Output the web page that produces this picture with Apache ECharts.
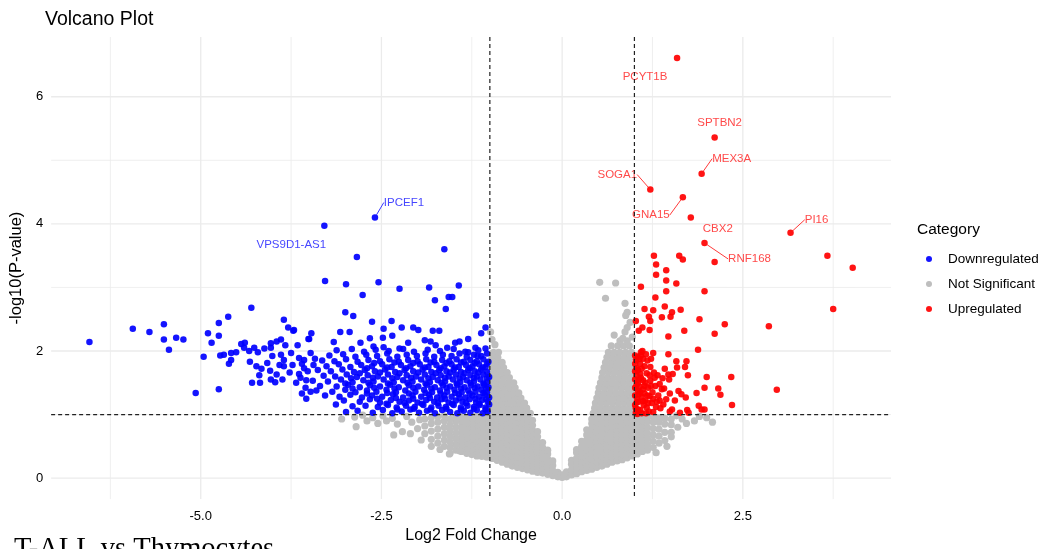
<!DOCTYPE html>
<html><head><meta charset="utf-8">
<script src="https://cdn.jsdelivr.net/npm/echarts@6/dist/echarts.min.js"></script>
<style>html,body{margin:0;padding:0;background:#fff}#c{width:1057px;height:549px}</style>
</head><body><div id="c"></div><script>
// ---------------- DATA ----------------
const categories = ['Downregulated', 'Not Significant', 'Upregulated'];
const xTicks = [-5, -2.5, 0, 2.5];
const yTicks = [0, 2, 4, 6];
const xMajor = [-5, -2.5, 0, 2.5];
const xMinor = [-6.25, -3.75, -1.25, 1.25, 3.75];
const yMajor = [0, 2, 4, 6];
const yMinor = [1, 3, 5];
const fcCutoffs = [-1, 1];
const pCutoffs = [1];

// labelled genes [name, log2FC, -log10 p]
const downLabeled = [['IPCEF1', -2.59, 4.10], ['VPS9D1-AS1', -3.29, 3.97]];
const upLabeled = [
  ['PCYT1B', 1.59, 6.61], ['SPTBN2', 2.11, 5.36], ['MEX3A', 1.93, 4.79], ['SOGA1', 1.22, 4.54],
  ['GNA15', 1.67, 4.42], ['CBX2', 1.78, 4.10], ['RNF168', 1.97, 3.70], ['PI16', 3.16, 3.86]
];

// upregulated (red) points
const upPoints = [
  [2.11,3.40],[1.27,3.50],[1.62,3.50],[1.67,3.44],[1.30,3.36],[1.44,3.27],[1.30,3.20],[1.44,3.11],[1.58,3.06],[1.09,3.01],
  [1.44,2.94],[1.97,2.94],[1.29,2.84],[1.14,2.66],[1.26,2.64],[1.42,2.70],[1.64,2.65],[1.52,2.61],[1.50,2.54],[1.38,2.53],
  [1.20,2.54],[1.22,2.47],[1.90,2.50],[1.02,2.47],[2.25,2.42],[2.86,2.39],[3.75,2.66],[3.67,3.50],[4.02,3.31],[1.11,2.37],
  [1.06,2.32],[1.21,2.33],[1.69,2.32],[1.47,2.23],[2.11,2.27],[1.88,2.02],[1.09,1.98],[1.26,1.97],[1.47,1.95],[1.23,1.88],
  [1.07,1.88],[1.58,1.84],[1.72,1.84],[1.14,1.76],[1.42,1.72],[1.59,1.74],[1.70,1.75],[1.03,1.73],[1.08,1.64],[1.27,1.66],
  [1.47,1.63],[1.53,1.64],[1.74,1.62],[2.00,1.59],[2.34,1.59],[1.39,1.57],[1.48,1.55],[1.12,1.54],[1.22,1.53],[1.35,1.48],
  [1.03,1.47],[1.14,1.45],[1.97,1.42],[2.16,1.41],[2.97,1.39],[1.41,1.41],[1.61,1.37],[1.86,1.34],[1.49,1.33],[1.65,1.32],
  [2.19,1.31],[1.06,1.32],[1.21,1.29],[1.71,1.27],[1.44,1.24],[1.56,1.22],[1.31,1.20],[1.12,1.21],[1.03,1.19],[2.35,1.15],
  [1.89,1.14],[1.17,1.11],[1.52,1.08],[1.93,1.08],[1.97,1.08],[1.73,1.07],[1.08,1.07],[1.49,1.05],[1.26,1.04],[1.63,1.03],
  [1.75,1.03],[1.02,1.03],[1.02,1.10],[1.04,1.25],[1.05,1.38],[1.06,1.55],[1.03,1.62],[1.08,1.80],[1.10,1.28],[1.12,1.40],
  [1.15,1.50],[1.17,1.65],[1.09,1.93],[1.02,1.85],[1.18,1.30],[1.13,1.15],[1.20,1.05],[1.25,1.35],[1.30,1.12],[1.16,1.95],
  [1.22,1.75],[1.28,1.58],[1.33,1.30],[1.04,1.01],[1.10,1.02],[1.15,1.22],[1.24,1.18],[1.36,1.10],[1.40,1.16],[1.07,1.44],[1.19,1.42],
  [1.01,1.15],[1.01,1.30],[1.01,1.42],[1.01,1.55],[1.01,1.68],[1.01,1.80],[1.01,1.93],[1.05,1.08],[1.06,1.20],[1.05,1.50],
  [1.05,1.70],[1.04,1.90],[1.08,1.35],[1.09,1.58],[1.10,1.72],[1.12,1.88],[1.14,1.33],[1.16,1.02],[1.19,1.18],[1.21,1.62],
  [1.23,1.45],[1.26,1.25],[1.29,1.45],[1.32,1.62],[1.35,1.22],[1.38,1.40],[1.18,1.85],[1.11,2.00]
];

// downregulated (blue) points
const downPoints = [
  [-6.54,2.14],[-5.94,2.35],[-5.71,2.30],[-5.51,2.42],[-5.51,2.18],[-5.34,2.21],[-5.24,2.18],[-5.44,2.02],[-5.07,1.34],[-4.75,1.40],
  [-4.96,1.91],[-4.90,2.28],[-4.85,2.13],[-4.75,2.44],[-4.75,2.24],[-4.62,2.54],[-4.30,2.68],[-4.73,1.93],[-4.68,1.94],[-4.58,1.97],
  [-4.51,1.98],[-4.58,1.86],[-4.61,1.80],[-4.44,2.11],[-4.39,2.13],[-4.32,1.83],[-4.40,2.05],[-4.33,2.00],[-4.26,2.05],[-4.21,1.98],
  [-4.12,2.04],[-4.03,2.12],[-3.95,2.15],[-3.89,2.18],[-3.85,2.49],[-3.79,2.37],[-3.72,2.32],[-3.83,2.09],[-3.66,2.09],[-4.03,2.05],
  [-4.01,1.92],[-3.89,1.94],[-3.85,1.86],[-3.75,1.97],[-3.64,1.89],[-3.57,1.86],[-3.48,1.97],[-4.23,1.76],[-4.16,1.72],[-4.08,1.81],
  [-4.04,1.69],[-3.95,1.63],[-3.91,1.78],[-3.85,1.76],[-3.73,1.78],[-3.77,1.66],[-4.19,1.62],[-4.29,1.50],[-4.18,1.50],[-4.03,1.55],
  [-3.97,1.51],[-3.87,1.55],[-3.64,1.64],[-3.54,1.54],[-3.60,1.33],[-3.54,1.25],[-3.48,1.36],[-3.50,2.19],[-3.57,1.73],
  [-1.63,3.60],[-2.84,3.48],[-3.28,3.10],[-2.99,3.05],[-2.54,3.08],[-2.25,2.98],[-1.84,3.00],[-1.43,3.03],[-2.76,2.88],[-1.76,2.80],
  [-1.57,2.85],[-1.52,2.85],[-1.61,2.66],[-3.00,2.61],[-2.89,2.55],[-2.63,2.46],[-2.36,2.47],[-1.19,2.56],[-1.06,2.37],[-2.47,2.35],
  [-2.22,2.37],[-2.06,2.37],[-1.99,2.33],[-1.79,2.32],[-1.70,2.32],[-3.07,2.30],[-2.94,2.30],[-3.47,2.28],[-2.66,2.20],[-2.35,2.24],
  [-2.48,2.21],[-2.13,2.13],[-1.90,2.17],[-1.82,2.15],[-1.75,2.09],[-1.59,2.05],[-1.48,2.13],[-1.42,2.15],[-1.30,2.19],[-1.12,2.28],
  [-3.51,2.19],[-3.16,2.14],[-2.79,2.13],[-2.61,2.07],[-2.25,2.04],[-2.47,2.06],[-1.30,1.98],[-1.20,2.05],[-1.17,1.92],[-3.71,2.33],
  [-2.99,1.04],[-2.83,1.06],[-2.62,1.03],[-2.48,1.07],[-2.35,1.02],[-2.22,1.05],[-2.10,1.08],[-1.98,1.03],[-1.87,1.06],[-1.76,1.02],
  [-1.66,1.07],[-1.55,1.04],[-1.45,1.02],[-1.36,1.06],[-1.27,1.03],[-1.18,1.07],[-1.10,1.02],[-1.03,1.05],
  [-3.13,1.16],[-2.90,1.13],[-2.72,1.14],[-2.55,1.12],[-2.41,1.15],[-2.29,1.11],[-2.16,1.14],[-2.04,1.12],[-1.92,1.15],[-1.81,1.11],
  [-1.71,1.14],[-1.61,1.12],[-1.50,1.15],[-1.40,1.11],[-1.31,1.14],[-1.22,1.12],[-1.14,1.15],[-1.06,1.11],[-1.01,1.16],
  [-3.02,1.22],[-2.80,1.20],[-2.66,1.24],[-2.52,1.19],[-2.37,1.23],[-2.25,1.20],[-2.12,1.22],[-2.00,1.19],[-1.88,1.23],[-1.77,1.20],
  [-1.67,1.24],[-1.57,1.19],[-1.47,1.22],[-1.38,1.20],[-1.28,1.24],[-1.19,1.19],[-1.11,1.23],[-1.03,1.20],
  [-3.28,1.30],[-3.08,1.28],[-2.93,1.31],[-2.77,1.27],[-2.63,1.30],[-2.49,1.28],[-2.34,1.32],[-2.20,1.27],[-2.07,1.30],[-1.95,1.28],
  [-1.84,1.31],[-1.73,1.27],[-1.63,1.30],[-1.53,1.28],[-1.43,1.32],[-1.34,1.27],[-1.24,1.30],[-1.15,1.28],[-1.07,1.31],[-1.01,1.27],
  [-3.40,1.38],[-3.18,1.36],[-3.00,1.39],[-2.86,1.35],[-2.70,1.38],[-2.57,1.36],[-2.43,1.39],[-2.30,1.35],[-2.17,1.38],[-2.03,1.36],
  [-1.91,1.39],[-1.80,1.35],[-1.69,1.38],[-1.59,1.36],[-1.49,1.39],[-1.39,1.35],[-1.30,1.38],[-1.20,1.36],[-1.12,1.39],[-1.04,1.35],
  [-3.35,1.45],[-3.12,1.44],[-2.96,1.47],[-2.80,1.43],[-2.66,1.46],[-2.52,1.44],[-2.38,1.47],[-2.26,1.43],[-2.12,1.46],[-1.99,1.44],
  [-1.87,1.47],[-1.76,1.43],[-1.65,1.46],[-1.55,1.44],[-1.45,1.47],[-1.35,1.43],[-1.26,1.46],[-1.17,1.44],[-1.08,1.47],[-1.02,1.43],
  [-3.45,1.53],[-3.24,1.52],[-3.06,1.55],[-2.90,1.51],[-2.75,1.54],[-2.61,1.52],[-2.47,1.55],[-2.33,1.51],[-2.20,1.54],[-2.07,1.52],
  [-1.95,1.55],[-1.83,1.51],[-1.72,1.54],[-1.62,1.52],[-1.51,1.55],[-1.41,1.51],[-1.32,1.54],[-1.22,1.52],[-1.13,1.55],[-1.04,1.51],
  [-3.30,1.61],[-3.14,1.60],[-2.98,1.63],[-2.84,1.59],[-2.69,1.62],[-2.55,1.60],[-2.41,1.63],[-2.28,1.59],[-2.15,1.62],[-2.02,1.60],
  [-1.90,1.63],[-1.79,1.59],[-1.68,1.62],[-1.57,1.60],[-1.47,1.63],[-1.37,1.59],[-1.27,1.62],[-1.18,1.60],[-1.09,1.63],[-1.01,1.59],
  [-3.38,1.70],[-3.20,1.68],[-3.04,1.71],[-2.88,1.67],[-2.73,1.70],[-2.59,1.68],[-2.45,1.71],[-2.31,1.67],[-2.18,1.70],[-2.06,1.68],
  [-1.93,1.71],[-1.81,1.67],[-1.70,1.70],[-1.60,1.68],[-1.50,1.71],[-1.40,1.67],[-1.30,1.70],[-1.21,1.68],[-1.12,1.71],[-1.04,1.67],
  [-3.44,1.78],[-3.26,1.76],[-3.09,1.79],[-2.93,1.75],[-2.78,1.78],[-2.63,1.76],[-2.49,1.79],[-2.36,1.75],[-2.23,1.78],[-2.10,1.76],
  [-1.97,1.79],[-1.85,1.75],[-1.74,1.78],[-1.63,1.76],[-1.53,1.79],[-1.43,1.75],[-1.33,1.78],[-1.24,1.76],[-1.15,1.79],[-1.06,1.75],
  [-3.32,1.85],[-3.15,1.84],[-2.99,1.87],[-2.83,1.83],[-2.68,1.86],[-2.52,1.84],[-2.39,1.87],[-2.26,1.83],[-2.13,1.86],[-2.00,1.84],
  [-1.88,1.87],[-1.77,1.83],[-1.66,1.86],[-1.56,1.84],[-1.46,1.87],[-1.36,1.83],[-1.27,1.86],[-1.18,1.84],[-1.09,1.87],[-1.02,1.83],
  [-3.22,1.93],[-3.03,1.95],[-2.86,1.91],[-2.71,1.94],[-2.56,1.92],[-2.42,1.96],[-2.28,1.91],[-2.15,1.94],[-2.01,1.92],[-1.89,1.96],
  [-1.77,1.91],[-1.65,1.94],[-1.53,1.92],[-1.42,1.96],[-1.32,1.91],[-1.22,1.94],[-1.12,1.92],[-1.04,1.96],
  [-3.12,2.01],[-2.91,2.03],[-2.74,1.99],[-2.58,2.02],[-2.40,2.00],[-2.20,2.03],[-2.05,1.99],[-1.86,2.02],[-1.69,2.00],[-1.50,2.03],
  [-1.34,1.99],[-1.16,2.01],[-1.06,2.04],
  [-2.28,1.08],[-2.05,1.09],[-1.82,1.08],[-1.60,1.09],[-1.40,1.08],[-1.22,1.09],[-1.06,1.08],
  [-2.43,1.17],[-2.18,1.18],[-1.94,1.17],[-1.72,1.18],[-1.52,1.17],[-1.33,1.18],[-1.15,1.17],
  [-2.56,1.25],[-2.30,1.26],[-2.06,1.25],[-1.83,1.26],[-1.62,1.25],[-1.42,1.26],[-1.20,1.25],[-1.05,1.24],
  [-2.70,1.33],[-2.42,1.34],[-2.12,1.33],[-1.89,1.34],[-1.68,1.33],[-1.48,1.34],[-1.28,1.33],[-1.09,1.34],
  [-2.90,1.41],[-2.60,1.42],[-2.32,1.41],[-2.06,1.42],[-1.81,1.41],[-1.60,1.42],[-1.40,1.41],[-1.21,1.42],[-1.05,1.41],
  [-3.00,1.49],[-2.68,1.50],[-2.41,1.49],[-2.14,1.50],[-1.89,1.49],[-1.67,1.50],[-1.46,1.49],[-1.27,1.50],[-1.09,1.49],
  [-2.92,1.57],[-2.62,1.58],[-2.35,1.57],[-2.09,1.58],[-1.85,1.57],[-1.62,1.58],[-1.42,1.57],[-1.22,1.58],[-1.04,1.57],
  [-2.80,1.65],[-2.52,1.66],[-2.25,1.65],[-1.99,1.66],[-1.75,1.65],[-1.55,1.66],[-1.35,1.65],[-1.16,1.66],
  [-2.70,1.73],[-2.42,1.74],[-2.16,1.73],[-1.90,1.74],[-1.68,1.73],[-1.48,1.74],[-1.28,1.73],[-1.10,1.74],
  [-2.60,1.81],[-2.32,1.82],[-2.06,1.81],[-1.82,1.82],[-1.60,1.81],[-1.40,1.82],[-1.21,1.81],[-1.04,1.80],
  [-3.55,1.42],[-3.62,1.58],[-3.52,1.68],[-3.68,1.50],[-3.60,1.80],[-3.42,1.88]
];

// not significant (grey) points, columns: [log2FC, -log10 p values...]
const greyCols = [
  [-0.97,.31,.40,.48,.56,.64,.72,.80,.88,.95],
  [-0.90,.28,.36,.44,.52,.60,.68,.76,.84,.92,.99],
  [-0.83,.25,.33,.41,.49,.57,.65,.73,.81,.89,.96],
  [-0.76,.22,.30,.38,.46,.54,.62,.70,.78,.86,.94],
  [-0.69,.19,.27,.35,.43,.51,.59,.67,.75,.83,.91,.98],
  [-0.62,.17,.25,.33,.41,.49,.57,.65,.73,.81,.89,.96],
  [-0.55,.15,.23,.31,.39,.47,.55,.63,.71,.79,.87,.95],
  [-0.48,.13,.21,.29,.37,.45,.53,.61,.69,.77,.85,.93,.99],
  [-0.41,.11,.19,.27,.35,.43,.51,.59,.67,.75,.83,.91],
  [-0.34,.09,.17,.25,.33,.41,.49,.57,.65,.73],
  [-0.27,.08,.16,.24,.32,.40,.48,.56],
  [-0.20,.06,.14,.22,.30,.38,.44],
  [-0.13,.04,.12,.20,.27],
  [-0.06,.02,.09],
  [0.00,.01],
  [0.06,.02,.10],
  [0.13,.05,.13,.22,.28],
  [0.20,.07,.15,.23,.31,.40,.45],
  [0.27,.10,.18,.26,.34,.42,.50,.58],
  [0.34,.12,.20,.28,.36,.44,.52,.60,.68,.76],
  [0.41,.14,.22,.30,.38,.46,.54,.62,.70,.78,.86,.93],
  [0.48,.17,.25,.33,.41,.49,.57,.65,.73,.81,.89,.97],
  [0.55,.19,.27,.35,.43,.51,.59,.67,.75,.83,.91,.98],
  [0.62,.22,.30,.38,.46,.54,.62,.70,.78,.86,.94],
  [0.69,.25,.33,.41,.49,.57,.65,.73,.81,.89,.96],
  [0.76,.27,.35,.43,.51,.59,.67,.75,.83,.91,.98],
  [0.83,.29,.37,.45,.53,.61,.69,.77,.85,.93],
  [0.90,.32,.40,.48,.56,.64,.72,.80,.88,.96],
  [0.97,.35,.43,.51,.59,.67,.75,.83,.91,.98],
  [-1.04,.33,.41,.49,.57,.65,.73,.81,.89,.96],
  [-1.11,.34,.42,.50,.58,.66,.74,.82,.90,.97],
  [-1.18,.35,.43,.51,.59,.67,.75,.83,.91,.98],
  [-1.25,.37,.45,.53,.61,.69,.77,.85,.93],
  [-1.32,.39,.47,.55,.63,.71,.79,.87,.95],
  [-1.39,.42,.50,.58,.66,.74,.82,.90,.97],
  [-1.47,.44,.53,.62,.71,.80,.89,.96],
  [-1.55,.39,.48,.57,.66,.75,.84,.93],
  [-1.63,.50,.60,.70,.80,.90,.98],
  [-1.72,.55,.66,.77,.88,.97],
  [-1.81,.61,.74,.86,.95],
  [-1.90,.70,.82,.93],
  [1.04,.38,.46,.54,.62,.70,.78,.86,.94],
  [1.11,.42,.50,.58,.66,.74,.82,.90,.97],
  [1.18,.44,.53,.62,.71,.80,.89,.97],
  [1.26,.48,.58,.68,.78,.88,.96],
  [1.34,.55,.66,.77,.88,.95],
  [1.42,.59,.72,.85,.94],
  [1.51,.72,.84,.93]
];
// grey rows: [-log10 p, log2FC values...]
const greyRows = [
  [1.02,-0.99,-0.91,-0.83,-0.75,-0.67,-0.59,-0.51,-0.44],
  [1.10,-0.97,-0.89,-0.81,-0.73,-0.65,-0.57,-0.49],
  [1.18,-0.99,-0.91,-0.83,-0.75,-0.67,-0.59,-0.52],
  [1.26,-0.97,-0.89,-0.81,-0.73,-0.65,-0.57],
  [1.34,-0.99,-0.91,-0.83,-0.75,-0.67,-0.60],
  [1.42,-0.97,-0.89,-0.81,-0.73,-0.65],
  [1.50,-0.99,-0.91,-0.83,-0.75,-0.67],
  [1.58,-0.97,-0.89,-0.81,-0.73],
  [1.66,-0.99,-0.91,-0.83,-0.76],
  [1.74,-0.97,-0.89,-0.81],
  [1.82,-0.99,-0.91,-0.83],
  [1.90,-0.97,-0.89],
  [1.98,-0.95,-0.88],
  [1.02,0.43,0.51,0.59,0.67,0.75,0.83,0.91,0.98],
  [1.10,0.45,0.53,0.61,0.69,0.77,0.85,0.93,0.99],
  [1.18,0.46,0.54,0.62,0.70,0.78,0.86,0.94],
  [1.26,0.48,0.56,0.64,0.72,0.80,0.88,0.96],
  [1.34,0.50,0.58,0.66,0.74,0.82,0.90,0.98],
  [1.42,0.51,0.59,0.67,0.75,0.83,0.91,0.99],
  [1.50,0.53,0.61,0.69,0.77,0.85,0.93],
  [1.58,0.55,0.63,0.71,0.79,0.87,0.95],
  [1.66,0.56,0.64,0.72,0.80,0.88,0.96],
  [1.74,0.58,0.66,0.74,0.82,0.90,0.98],
  [1.82,0.60,0.68,0.76,0.84,0.92],
  [1.90,0.62,0.70,0.78,0.86,0.94],
  [1.98,0.64,0.72,0.80,0.88,0.96],
  [2.08,0.68,0.77,0.85,0.93],
  [2.16,0.80,0.90]
];
const greyPoints = [
  [-2.00,0.78],[-1.97,0.92],[-2.08,0.88],[-2.15,0.97],[-2.21,0.73],[-2.28,0.85],[-2.35,0.94],[-2.43,0.90],[-2.55,0.86],[-2.62,0.95],
  [-2.70,0.90],[-2.85,0.81],[-2.87,0.96],[-2.48,0.98],[-2.10,0.70],[-1.95,0.60],[-2.33,0.68],[-3.05,0.93],[-2.76,0.99],[-1.81,0.50],
  [-1.69,0.45],[-1.56,0.38],[-1.42,0.43],
  [1.60,0.80],[1.66,0.93],[1.72,0.86],[1.83,0.90],[1.90,0.97],[2.08,0.88],[1.58,0.98],[2.00,0.95],[1.45,0.50],[1.30,0.40],[1.51,0.65],
  [0.52,3.08],[0.74,3.07],[0.87,2.75],[0.60,2.83],[0.90,2.61],[0.88,2.56],[0.90,2.37],[0.87,2.30],[0.94,2.45],[0.97,2.22],[0.72,2.25],[0.84,2.20],
  [-0.99,2.30],[-0.97,2.18],[-0.93,2.10],[-0.02,0.05],[0.02,0.05]
];

// ---------------- LAYOUT / STYLE ----------------
const LABEL_POS = { // pixel offsets of label centre from point, guide line flag
  'PCYT1B':[-32,19,0], 'SPTBN2':[5,-15,0], 'MEX3A':[30,-15,1], 'SOGA1':[-33,-15,1], 'GNA15':[-32,18,1],
  'CBX2':[27,11,0], 'RNF168':[45,16,1], 'PI16':[26,-13,1], 'IPCEF1':[29,-15,1], 'VPS9D1-AS1':[-33,19,0]
};
const COLORS = {down:'#0000ff', ns:'#bebebe', up:'#ff0000', downText:'#3636ff', upText:'#ff3a3a'};
const FONT = '"Liberation Sans", Arial, sans-serif';

const greyData = [];
greyCols.forEach(c => { for (let i = 1; i < c.length; i++) greyData.push([c[0], c[i]]); });
greyRows.forEach(r => { for (let i = 1; i < r.length; i++) greyData.push([r[i], r[0]]); });
greyPoints.forEach(p => greyData.push(p));

function labeledItems(list) {
  return list.map(g => ({
    name: g[0], value: [g[1], g[2]],
    label: {show: true, formatter: '{b}'},
    labelLine: {show: !!(LABEL_POS[g[0]] && LABEL_POS[g[0]][2])}
  }));
}
function layoutFn(p) {
  const o = LABEL_POS[p.text];
  return o ? {dx: o[0], dy: o[1]} : {};
}

const gridLines = []
  .concat(xMajor.map(v => [v, 0, 1]))
  .concat(xMinor.map(v => [v, 0, 0]))
  .concat(yMajor.map(v => [v, 1, 1]))
  .concat(yMinor.map(v => [v, 1, 0]));
const cutLines = fcCutoffs.map(v => [v, 0]).concat(pCutoffs.map(v => [v, 1]));

function lineRenderer(styleFn) {
  return function (params, api) {
    const cs = params.coordSys;
    const v = api.value(0), orient = api.value(1);
    const st = styleFn(api);
    if (orient === 0) {
      const px = api.coord([v, 0])[0];
      return {type: 'line', shape: {x1: px, y1: cs.y, x2: px, y2: cs.y + cs.height}, style: st, silent: true};
    }
    const py = api.coord([0, v])[1];
    return {type: 'line', shape: {x1: cs.x, y1: py, x2: cs.x + cs.width, y2: py}, style: st, silent: true};
  };
}

const chart = echarts.init(document.getElementById('c'), null, {renderer: 'canvas'});
const baseScatter = {type: 'scatter', symbol: 'circle', symbolSize: 6.5, z: 3, emphasis: {disabled: true}};

chart.setOption({
  animation: false,
  backgroundColor: '#ffffff',
  textStyle: {fontFamily: FONT},
  title: {text: 'Volcano Plot', left: 45, top: 10, padding: 0, textStyle: {fontSize: 19.5, fontWeight: 'normal', color: '#000', fontFamily: FONT}},
  grid: {left: 45, right: 166, top: 37, bottom: 47, containLabel: false},
  legend: {
    data: categories, orient: 'vertical', left: 921, top: 247, icon: 'circle',
    itemWidth: 28, itemHeight: 6, itemGap: 11, selectedMode: false,
    textStyle: {fontSize: 13.5, color: '#000', fontFamily: FONT}
  },
  graphic: [
    {type: 'text', left: 917, top: 222, style: {text: 'Category', font: '15.5px ' + FONT, fill: '#000'}},
    {type: 'text', left: 14, top: 535, style: {text: 'T-ALL vs Thymocytes', font: '28.5px "Liberation Serif", "Times New Roman", serif', fill: '#000'}}
  ],
  xAxis: {
    type: 'value', min: -7.07, max: 4.55,
    axisLine: {show: false}, axisTick: {show: false}, splitLine: {show: false},
    axisLabel: {customValues: xTicks, formatter: v => v.toFixed(1), fontSize: 13, color: '#000', margin: 11, fontFamily: FONT},
    name: 'Log2 Fold Change', nameLocation: 'middle', nameGap: 28,
    nameTextStyle: {fontSize: 16, color: '#000', fontFamily: FONT}
  },
  yAxis: {
    type: 'value', min: -0.33, max: 6.94,
    axisLine: {show: false}, axisTick: {show: false}, splitLine: {show: false},
    axisLabel: {customValues: yTicks, formatter: v => String(v), fontSize: 13, color: '#000', margin: 8, fontFamily: FONT},
    name: '-log10(P-value)', nameLocation: 'middle', nameGap: 18,
    nameTextStyle: {fontSize: 16.5, color: '#000', fontFamily: FONT}
  },
  series: [
    {
      type: 'custom', name: 'gridlines', z: 0, silent: true, data: gridLines,
      renderItem: lineRenderer(api => ({stroke: '#ebebeb', lineWidth: api.value(2) ? 1.3 : 0.8}))
    },
    Object.assign({}, baseScatter, {name: 'Not Significant', symbolSize: 7.2, data: greyData, itemStyle: {color: COLORS.ns, opacity: 1}}),
    Object.assign({}, baseScatter, {
      name: 'Downregulated', z: 4,
      data: downPoints.concat(labeledItems(downLabeled)),
      itemStyle: {color: COLORS.down, opacity: 0.92},
      label: {show: false, position: 'inside', fontSize: 11.5, color: COLORS.downText, fontFamily: FONT},
      labelLine: {show: false, lineStyle: {color: COLORS.downText, width: 1}},
      labelLayout: layoutFn
    }),
    Object.assign({}, baseScatter, {
      name: 'Upregulated', z: 4,
      data: upPoints.concat(labeledItems(upLabeled)),
      itemStyle: {color: COLORS.up, opacity: 0.92},
      label: {show: false, position: 'inside', fontSize: 11.5, color: COLORS.upText, fontFamily: FONT},
      labelLine: {show: false, lineStyle: {color: COLORS.upText, width: 1}},
      labelLayout: layoutFn
    }),
    {
      type: 'custom', name: 'cutoffs', z: 6, silent: true, data: cutLines,
      renderItem: lineRenderer(() => ({stroke: '#222', lineWidth: 1.2, lineDash: [4, 3]}))
    }
  ]
});
</script></body></html>
